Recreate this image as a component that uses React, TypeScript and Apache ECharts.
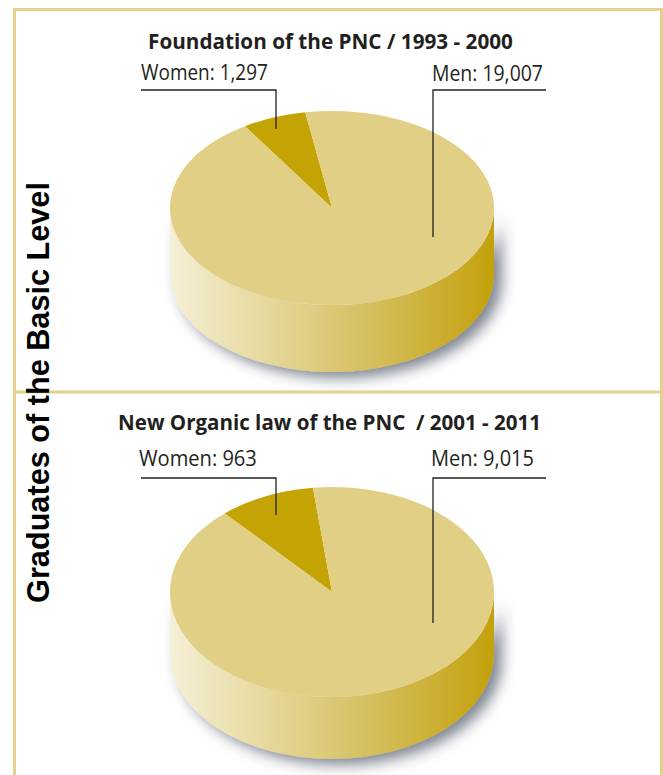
import React, { useEffect, useRef } from 'react';
import * as echarts from 'echarts';

// ---------- data ----------
const pieTitles = ['Foundation of the PNC / 1993 - 2000', 'New Organic law of the PNC  / 2001 - 2011'];
const categories = ['Women', 'Men'];
const womenValues = [1297, 963];
const menValues = [19007, 9015];
const sideTitle = 'Graduates of the Basic Level';

// ---------- styles / layout ----------
const BORDER = '#e3d18c';
const TEXT = '#231f20';
const sliceColors = ['#c4a305', '#e0cf84'];
const TITLE_FONT = '"Open Sans", "Noto Sans", sans-serif';
const SIDE_FONT = '"Liberation Sans", Arial, sans-serif';

const pieLayout = [
  {
    cx: 332, cy: 208, rx: 162, ry: 97, depth: 67, start: 122.5,
    titleX: 330.5, titleY: 40.5, titleW: 365,
    labelY: 72.5, labelX: [141, 432], labelW: [127, 111],
    lineY: 90, lineX: [[141, 276], [546, 433]], lineEnd: [129, 237],
  },
  {
    cx: 332, cy: 592, rx: 162, ry: 105, depth: 62, start: 131.5,
    titleX: 329.5, titleY: 421.5, titleW: 423,
    labelY: 458, labelX: [139, 431], labelW: [118, 103],
    lineY: 478, lineX: [[141, 276], [546, 433]], lineEnd: [515, 623],
  },
];

const measure = (text: string, font: string) => {
  const ctx = document.createElement('canvas').getContext('2d')!;
  ctx.font = font;
  return ctx.measureText(text).width;
};

const fmt = (v: number) => v.toLocaleString('en-US');

export default function App() {
  const ref = useRef<HTMLDivElement>(null);
  useEffect(() => {
    if (!ref.current) return;
    const chart = echarts.init(ref.current, undefined, { renderer: 'svg' });

    const graphic: any[] = [];
    graphic.push({
      type: 'rect', z: 100, silent: true,
      shape: { x: 14.5, y: 9.5, width: 647, height: 820 },
      style: { fill: 'none', stroke: BORDER, lineWidth: 3 },
    });
    graphic.push({
      type: 'line', z: 100, silent: true,
      shape: { x1: 14.5, y1: 392, x2: 661.5, y2: 392 },
      style: { stroke: BORDER, lineWidth: 3 },
    });

    // vertical side title
    const sideW = measure(sideTitle, `bold 24px ${SIDE_FONT}`);
    const sideSize = 24 * 421 / sideW;
    graphic.push({
      type: 'text', z: 101, x: 38, y: 392.5, rotation: Math.PI / 2,
      style: {
        text: sideTitle, fill: '#000', fontSize: sideSize, fontWeight: 'bold', fontFamily: SIDE_FONT,
        align: 'center', verticalAlign: 'middle', textAlign: 'center', textVerticalAlign: 'middle',
      },
    });

    const series: any[] = [];
    pieLayout.forEach((L, p) => {
      const vals = [womenValues[p], menValues[p]];
      // title
      const tw = measure(pieTitles[p], `bold 21px ${TITLE_FONT}`);
      graphic.push({
        type: 'text', z: 100, x: L.titleX, y: L.titleY, scaleX: L.titleW / tw,
        style: {
          text: pieTitles[p], fill: TEXT, fontSize: 21, fontWeight: 'bold', fontFamily: TITLE_FONT,
          align: 'center', verticalAlign: 'middle', textAlign: 'center', textVerticalAlign: 'middle',
        },
      });
      // labels + leader lines
      categories.forEach((c, k) => {
        const t = `${c}: ${fmt(vals[k])}`;
        const w = measure(t, `21px ${TITLE_FONT}`);
        graphic.push({
          type: 'text', z: 100, x: L.labelX[k], y: L.labelY, scaleX: L.labelW[k] / w,
          style: {
            text: t, fill: TEXT, fontSize: 21, fontFamily: TITLE_FONT,
            align: 'left', verticalAlign: 'middle', textAlign: 'left', textVerticalAlign: 'middle',
          },
        });
        const [xa, xb] = L.lineX[k];
        graphic.push({
          type: 'polyline', z: 100, silent: true,
          shape: { points: [[xa, L.lineY], [xb, L.lineY], [xb, L.lineEnd[k]]] },
          style: { stroke: TEXT, lineWidth: 1.3, fill: 'none' },
        });
      });

      const total = vals[0] + vals[1];
      series.push({
        type: 'custom',
        coordinateSystem: 'none',
        silent: true,
        data: categories.map((c, k) => ({ name: c, value: [vals[k]] })),
        renderItem: (params: any, api: any) => {
          const i = params.dataIndex;
          let cum = 0;
          for (let j = 0; j < i; j++) cum += vals[j];
          const v = api.value(0);
          const a0 = ((-L.start + (360 * cum) / total) * Math.PI) / 180;
          const a1 = ((-L.start + (360 * (cum + v)) / total) * Math.PI) / 180;
          const sector = {
            type: 'group', x: L.cx, y: L.cy, scaleY: L.ry / L.rx,
            children: [{
              type: 'sector',
              shape: { cx: 0, cy: 0, r: L.rx, r0: 0, startAngle: a0, endAngle: a1, clockwise: true },
              style: { fill: sliceColors[i] },
            }],
          };
          if (i !== 0) return sector;
          const { cx, cy, rx, ry, depth } = L;
          const d = `M${cx - rx} ${cy} L${cx - rx} ${cy + depth} A${rx} ${ry} 0 0 0 ${cx + rx} ${cy + depth} L${cx + rx} ${cy} A${rx} ${ry} 0 0 1 ${cx - rx} ${cy} Z`;
          return {
            type: 'group',
            children: [
              {
                type: 'path',
                shape: { pathData: d },
                style: {
                  fill: new echarts.graphic.LinearGradient(0, 0, 1, 0, [
                    { offset: 0, color: '#f5efd6' },
                    { offset: 0.3, color: '#e6d89c' },
                    { offset: 0.6, color: '#d6c062' },
                    { offset: 1, color: '#c3a10c' },
                  ]),
                  shadowBlur: 14,
                  shadowColor: 'rgba(50,60,80,0.62)',
                  shadowOffsetX: 8,
                  shadowOffsetY: 6,
                },
              },
              sector,
            ],
          };
        },
      });
    });

    chart.setOption({
      animation: false,
      backgroundColor: '#ffffff',
      tooltip: { show: false },
      series,
      graphic: { elements: graphic },
    });
    return () => chart.dispose();
  }, []);
  return (
    <div
      ref={ref}
      style={{ position: 'absolute', left: 0, top: 0, width: 663, height: 775 }}
    />
  );
}
